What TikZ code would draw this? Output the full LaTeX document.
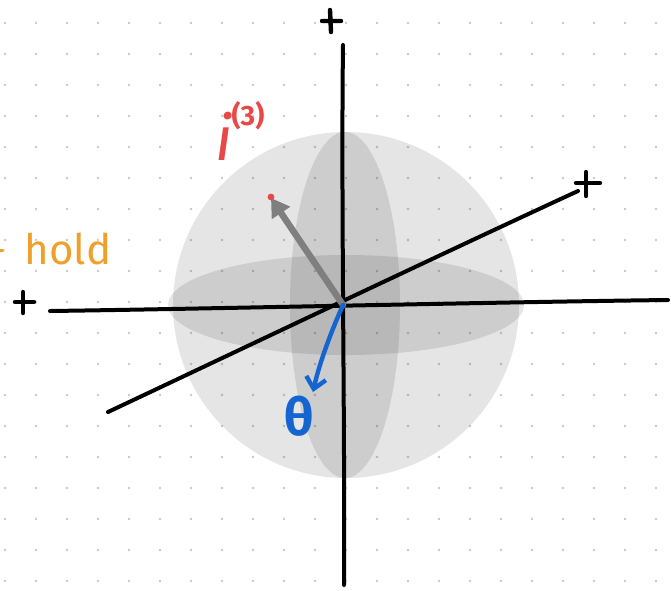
\documentclass[tikz,border=0pt]{standalone}
\usepackage{fontspec}
\newfontfamily\hand{Fira Sans}
\usetikzlibrary{arrows.meta}
\definecolor{penred}{HTML}{E84848}
\definecolor{penblue}{HTML}{1565D0}
\definecolor{penorange}{HTML}{F0A02A}
\definecolor{dotgray}{HTML}{C8C8C8}
\definecolor{arrgray}{HTML}{7F7F7F}
\tikzset{
  axis/.style={line width=4pt, black, line cap=round},
  plusmark/.style={line width=4.4pt, black, line cap=round},
  shade/.style={fill=black, fill opacity=0.1, draw=none},
  lbl/.style={inner sep=0pt, font=\hand},
}
\begin{document}
\begin{tikzpicture}[x=1pt,y=-1pt]
\useasboundingbox (0,0) rectangle (671,590);
\fill[white] (0,0) rectangle (671,590);
% dot grid
\foreach \i in {0,...,21}{\foreach \j in {0,...,18}{
  \fill[dotgray] (5+31*\i,23+31*\j) circle (1.4);}}
% sphere and its shaded ellipses
\fill[shade] (346,305) circle (173);
\fill[shade] (346,305) ellipse [x radius=178, y radius=50];
\fill[shade] (345,305) ellipse [x radius=55, y radius=173];
% axes
\coordinate (o) at (343,305);
\coordinate (vt) at (343,45);
\coordinate (vb) at (344,585);
\coordinate (hl) at (50,311);
\coordinate (hr) at (668,300);
\coordinate (dl) at (108,412);
\coordinate (dr) at (578,191);
\draw[axis] (vt) .. controls (341,200) and (345,420) .. (vb);
\draw[axis] (hl) .. controls (200,309) and (500,302) .. (hr);
\draw[axis] (dl) .. controls (250,345) and (450,250) .. (dr);
% plus marks
\draw[plusmark] (322,21) -- (341,21) (330,10) -- (331,32);
\draw[plusmark] (576,183) -- (600,183) (586,172) -- (586,196);
\draw[plusmark] (15,302) -- (34,302) (23,292) -- (23,313);
% gray vector
\coordinate (gt) at (271,198);
\draw[line width=6.5pt, arrgray, line cap=round, -{Triangle[length=18pt,width=21pt]}] (o) -- (gt);
\fill[penred] (271,197) circle (3.4);
% blue vector
\coordinate (bt) at (313,392);
\draw[line width=4.4pt, penblue, line cap=round, -{Straight Barb[length=11pt,width=20pt]}] (o) .. controls (334,325) and (320,360) .. (bt);
% labels
\node[lbl, text=penred, font=\hand\fontsize{62}{62}\selectfont] (itxt) at (224,136) {\textit{i}};
\node[lbl, text=penred, font=\hand\bfseries\fontsize{28}{28}\selectfont] (isup) at (248,116) {(3)};
\node[lbl, text=penorange, font=\hand\fontsize{42}{42}\selectfont] (hold) at (68,249) {hold};
\draw[penorange, line width=3pt, line cap=round] (0,250) -- (3,250);
\node[lbl, text=penblue, font=\hand\bfseries\fontsize{52}{52}\selectfont] (theta) at (299,416) {θ};
\end{tikzpicture}
\end{document}
